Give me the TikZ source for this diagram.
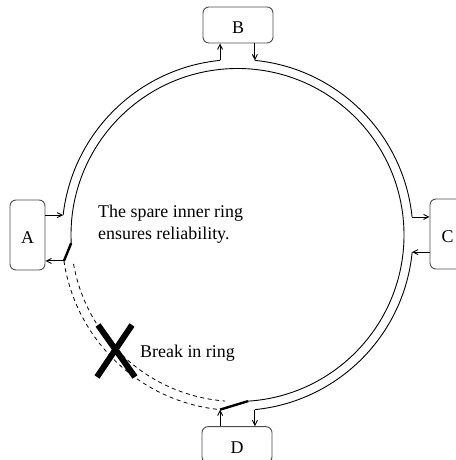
\documentclass[tikz,border=0pt]{standalone}
\usepackage{fontspec}
\setmainfont{Liberation Serif}
\usetikzlibrary{arrows.meta,calc}
\begin{document}
\begin{tikzpicture}[x=1bp,y=1bp,
  ring/.style={line width=0.9bp, black},
  station/.style={draw=black!70, line width=0.9bp, rounded corners=6bp,
    minimum width=35bp, minimum height=70bp, inner sep=0pt,
    text height=18bp, text depth=0bp,
    font=\fontsize{18}{22}\selectfont},
  wide/.style={minimum width=70bp, minimum height=36bp},
  link/.style={line width=0.9bp, -{Straight Barb[length=5bp,width=5bp]}},
  wrap/.style={line width=2.4bp},
  lost/.style={line width=0.8bp, dash pattern=on 4bp off 3.5bp},
  cross/.style={line width=6bp},
  caption/.style={font=\fontsize{18}{22.3}\selectfont, inner sep=0pt, align=left}]
\useasboundingbox (0,0) rectangle (456,460);
\def\R{175.5}
\def\r{166.5}
\coordinate (O) at (237.5,225);

% stations
\node[station] (A) at (27.5,225) {A};
\node[station,wide] (B) at (238,435) {B};
\node[station] (C) at (447.5,226) {C};
\node[station,wide] (D) at (237,15.3) {D};

% tap points on the outer ring
\coordinate (oA1) at ($(O)+(173.5:\R)$);
\coordinate (oA2) at ($(O)+(188.5:\R)$);
\coordinate (oB1) at ($(O)+(95.7:\R)$);
\coordinate (oB2) at ($(O)+(84.3:\R)$);
\coordinate (oC1) at ($(O)+(5.9:\R)$);
\coordinate (oC2) at ($(O)+(-5.6:\R)$);
\coordinate (oD1) at ($(O)+(-95.7:\R)$);
\coordinate (oD2) at ($(O)+(-84.3:\R)$);
% points on the inner ring
\coordinate (iA) at ($(O)+(182.8:\r)$);
\coordinate (iA2) at ($(O)+(190:\r)$);
\coordinate (iD) at ($(O)+(-86.4:\r)$);

% outer ring segments between stations
\draw[ring] (oA1) arc[start angle=173.5, end angle=95.7, radius=\R];
\draw[ring] (oB2) arc[start angle=84.3, end angle=5.9, radius=\R];
\draw[ring] (oC2) arc[start angle=-5.6, end angle=-84.3, radius=\R];
% spare inner ring
\draw[ring] (iA) arc[start angle=182.8, end angle=-86.4, radius=\r];
% broken section
\draw[lost] (oA2) arc[start angle=188.5, end angle=264.3, radius=\R];
\draw[lost] (iA2) arc[start angle=190, end angle=265.7, radius=\r];

% station taps
\draw[link] (A.east |- oA1) -- (oA1);
\draw[link] (oA2) -- (A.east |- oA2);
\draw[link] (oB1) -- (oB1 |- B.south);
\draw[link] (oB2 |- B.south) -- (oB2);
\draw[link] (oC1) -- (C.west |- oC1);
\draw[link] (C.west |- oC2) -- (oC2);
\draw[link] (oD2) -- (oD2 |- D.north);
\draw[link] (oD1 |- D.north) -- (oD1);

% loop-back joints
\draw[wrap] (oA2) -- (iA);
\draw[wrap] (oD1) -- (iD);

% break mark
\coordinate (brk) at (116,109);
\draw[cross] ($(brk)+(-18,26)$) -- ($(brk)+(19,-26)$);
\draw[cross] ($(brk)+(16,26)$) -- ($(brk)+(-19,-26)$);

% captions (base anchor sits on the last line)
\node[caption, anchor=base west] (note) at (98,220) {The spare inner ring\\ensures reliability.};
\node[caption, anchor=base west] (brklabel) at (140,102.5) {Break in ring};
\end{tikzpicture}
\end{document}
